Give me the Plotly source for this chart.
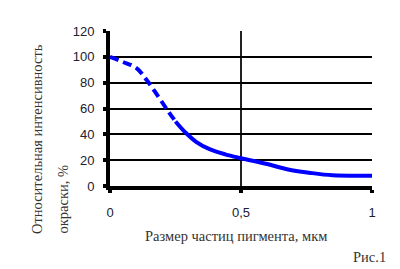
import plotly.graph_objects as go

# Dashed part of the curve (estimated region)
x_dash = [0, 0.05, 0.10, 0.14, 0.18, 0.22, 0.25]
y_dash = [100, 96, 91.5, 82, 70.5, 58.5, 50]
# Solid part of the curve
x_solid = [0.25, 0.29, 0.33, 0.38, 0.44, 0.50, 0.60, 0.68, 0.76, 0.85, 1.0]
y_solid = [50, 41, 34, 28.5, 24.5, 21.5, 17, 12.8, 10.3, 8.3, 8]

x_ticks = [0, 0.5, 1]
x_tick_labels = ["0", "0,5", "1"]
y_ticks = [0, 20, 40, 60, 80, 100, 120]

fig = go.Figure()
fig.add_trace(go.Scatter(x=x_dash, y=y_dash, mode="lines",
                         line=dict(color="#0000FF", width=4, dash="9px,5px", shape="spline"),
                         showlegend=False, hoverinfo="skip"))
fig.add_trace(go.Scatter(x=x_solid, y=y_solid, mode="lines",
                         line=dict(color="#0000FF", width=4, shape="spline"),
                         showlegend=False, hoverinfo="skip"))

tick_font = dict(family="Liberation Sans, Arial", size=13, color="#202030")
serif = dict(family="Liberation Serif, Times New Roman", size=14.5, color="#333333")

fig.update_layout(
    width=400, height=269,
    margin=dict(l=110, r=28, t=31, b=83),
    paper_bgcolor="white", plot_bgcolor="white",
    xaxis=dict(range=[0, 1], tickvals=x_ticks, ticktext=x_tick_labels,
               showgrid=True, gridcolor="#222222", gridwidth=2,
               showline=True, linecolor="black", linewidth=4,
               ticks="outside", ticklen=3, tickwidth=4, tickcolor="black",
               zeroline=False, tickfont=tick_font, ticklabelstandoff=8),
    yaxis=dict(range=[0, 120], tickvals=y_ticks,
               showgrid=True, gridcolor="black", gridwidth=2,
               showline=True, linecolor="black", linewidth=4,
               ticks="outside", ticklen=3, tickwidth=4, tickcolor="black",
               zeroline=False, tickfont=tick_font, ticklabelstandoff=6),
)

pw = 400 - 110 - 28
ph = 269 - 31 - 83
def px_x(p):
    return (p - 110) / pw
def px_y(p):
    return (269 - 83 - p) / ph

fig.add_annotation(text="Относительная интенсивность", x=px_x(37), y=px_y(236),
                   xref="paper", yref="paper", xanchor="center", yanchor="bottom",
                   showarrow=False, textangle=-90, font=serif)
fig.add_annotation(text="окраски, %", x=px_x(62), y=px_y(236),
                   xref="paper", yref="paper", xanchor="center", yanchor="bottom",
                   showarrow=False, textangle=-90, font=serif)
fig.add_annotation(text="Размер частиц пигмента, мкм", x=px_x(236), y=px_y(236),
                   xref="paper", yref="paper", xanchor="center", yanchor="middle",
                   showarrow=False, font=serif)
fig.add_annotation(text="Рис.1", x=px_x(369), y=px_y(257),
                   xref="paper", yref="paper", xanchor="center", yanchor="middle",
                   showarrow=False, font=serif)

fig.write_html("out.html")
